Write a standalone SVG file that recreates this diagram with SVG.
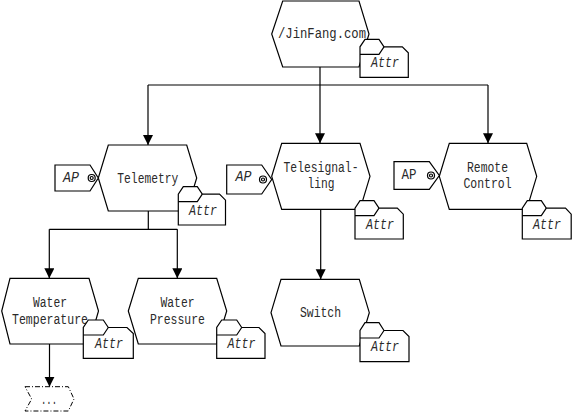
<svg xmlns="http://www.w3.org/2000/svg" width="572" height="412" viewBox="0 0 572 412">
<defs>
<marker id="ah" markerUnits="userSpaceOnUse" markerWidth="10" markerHeight="11" refX="10" refY="5" orient="auto">
<path d="M0,0 L10,5 L0,10 Z" fill="#000"/>
</marker>
</defs>
<style>
.s{fill:#fff;stroke:#000;stroke-width:1.2;stroke-linejoin:miter}
.n{fill:none;stroke:#000;stroke-width:1.2}
.c{fill:none;stroke:#000;stroke-width:1.2}
.t{font-family:"Liberation Mono","Courier New",monospace;font-size:14.5px;fill:#2a2a2a;text-anchor:middle;dominant-baseline:central}
.i{font-style:italic}
.d{fill:#fff;stroke:#000;stroke-width:1;stroke-dasharray:5,2,1,2}
</style>
<rect width="572" height="412" fill="#fff"/>
<g id="connectors">
<path class="c" d="M320,67 V85 M148,85 H488"/>
<path class="c" d="M148,85 V145" marker-end="url(#ah)"/>
<path class="c" d="M320,85 V143.3" marker-end="url(#ah)"/>
<path class="c" d="M488,85 V143.3" marker-end="url(#ah)"/>
<path class="c" d="M148.3,211 V229.3 M49.3,229.3 H177.3"/>
<path class="c" d="M49.3,229.3 V278.3" marker-end="url(#ah)"/>
<path class="c" d="M177.3,229.3 V278.3" marker-end="url(#ah)"/>
<path class="c" d="M320.7,209.3 V279.3" marker-end="url(#ah)"/>
<path class="c" d="M49.5,344 V386.7" marker-end="url(#ah)"/>
</g>
<g id="jinfang">
<polygon class="s" points="282.7,1 359,1 369,34 359,67 282.7,67 271.7,34"/>
<text class="t" x="322" y="34" textLength="88" lengthAdjust="spacingAndGlyphs">/JinFang.com</text>
<path class="s" d="M360,77.3 V46.8 L365,39.3 H379 L384,46.8 H402.3 L408.3,52.8 V77.3 Z"/>
<path class="n" d="M360,54.3 H379 L384,46.8"/>
<text class="t i" x="385" y="63" textLength="28" lengthAdjust="spacingAndGlyphs">Attr</text>
</g>
<g id="telemetry">
<polygon class="s" points="108.3,145 186.7,145 196.7,178 186.7,211 108.3,211 98.3,178"/>
<text class="t" x="147.8" y="179" textLength="61" lengthAdjust="spacingAndGlyphs">Telemetry</text>
<polygon class="s" points="55,165 90,165 98.3,178 90,191 55,191"/>
<circle class="s" cx="91.7" cy="178" r="3.5"/>
<circle class="s" cx="91.7" cy="178" r="1.5"/>
<text class="t i" x="71" y="178" textLength="16" lengthAdjust="spacingAndGlyphs">AP</text>
<path class="s" d="M178.3,225 V194.2 L183.3,186.7 H197.3 L202.3,194.2 H219.5 L225.5,200.2 V225 Z"/>
<path class="n" d="M178.3,201.7 H197.3 L202.3,194.2"/>
<text class="t i" x="203" y="211" textLength="28" lengthAdjust="spacingAndGlyphs">Attr</text>
</g>
<g id="telesignalling">
<polygon class="s" points="281.7,143.3 360,143.3 370,176.3 360,209.3 281.7,209.3 271.7,176.3"/>
<text class="t" x="321" y="168.3" textLength="75" lengthAdjust="spacingAndGlyphs">Telesignal-</text>
<text class="t" x="321" y="184" textLength="27" lengthAdjust="spacingAndGlyphs">ling</text>
<polygon class="s" points="226.7,165 261.7,165 271.7,179.5 261.7,194 226.7,194"/>
<circle class="s" cx="263" cy="179.5" r="3.5"/>
<circle class="s" cx="263" cy="179.5" r="1.5"/>
<text class="t i" x="243.5" y="177" textLength="16" lengthAdjust="spacingAndGlyphs">AP</text>
<path class="s" d="M355,239 V208.2 L360,200.7 H374 L379,208.2 H397.3 L403.3,214.2 V239 Z"/>
<path class="n" d="M355,215.7 H374 L379,208.2"/>
<text class="t i" x="380" y="224.5" textLength="28" lengthAdjust="spacingAndGlyphs">Attr</text>
</g>
<g id="remote">
<polygon class="s" points="449.3,143.3 526.7,143.3 536.7,176.3 526.7,209.3 449.3,209.3 439.3,176.3"/>
<text class="t" x="487.5" y="168.3" textLength="41" lengthAdjust="spacingAndGlyphs">Remote</text>
<text class="t" x="487.5" y="184" textLength="48" lengthAdjust="spacingAndGlyphs">Control</text>
<polygon class="s" points="394,161.7 429.3,161.7 439.3,175.5 429.3,189.3 394,189.3"/>
<circle class="s" cx="431" cy="175.5" r="3.5"/>
<circle class="s" cx="431" cy="175.5" r="1.5"/>
<text class="t" x="409" y="175" textLength="15" lengthAdjust="spacingAndGlyphs">AP</text>
<path class="s" d="M522.3,239 V208.2 L527.3,200.7 H541.3 L546.3,208.2 H565.5 L571.2,214.2 V239 Z"/>
<path class="n" d="M522.3,215.7 H541.3 L546.3,208.2"/>
<text class="t i" x="547" y="224.5" textLength="28" lengthAdjust="spacingAndGlyphs">Attr</text>
</g>
<g id="watertemp">
<polygon class="s" points="10,278.3 89,278.3 98.5,311 89,344 10,344 1.7,311"/>
<text class="t" x="50" y="303.3" textLength="34" lengthAdjust="spacingAndGlyphs">Water</text>
<text class="t" x="50" y="320" textLength="76" lengthAdjust="spacingAndGlyphs">Temperature</text>
<path class="s" d="M83.3,358.3 V327.5 L88.3,320 H103.3 L108.3,327.5 H127 L133.3,333.5 V358.3 Z"/>
<path class="n" d="M83.3,335 H103.3 L108.3,327.5"/>
<text class="t i" x="109" y="343.5" textLength="28" lengthAdjust="spacingAndGlyphs">Attr</text>
</g>
<g id="waterpressure">
<polygon class="s" points="138.3,278.3 216.7,278.3 226.7,311 216.7,344 138.3,344 128.3,311"/>
<text class="t" x="177.5" y="303.3" textLength="34" lengthAdjust="spacingAndGlyphs">Water</text>
<text class="t" x="177.5" y="320" textLength="55" lengthAdjust="spacingAndGlyphs">Pressure</text>
<path class="s" d="M216.7,358.3 V327.5 L221.7,320 H236.7 L241.7,327.5 H259 L265,333.5 V358.3 Z"/>
<path class="n" d="M216.7,335 H236.7 L241.7,327.5"/>
<text class="t i" x="241.5" y="343.5" textLength="28" lengthAdjust="spacingAndGlyphs">Attr</text>
</g>
<g id="switch">
<polygon class="s" points="281,279.3 359.3,279.3 369.3,312.7 359.3,346 281,346 271,312.7"/>
<text class="t" x="320.5" y="312.7" textLength="41" lengthAdjust="spacingAndGlyphs">Switch</text>
<path class="s" d="M360,361.7 V330.5 L365,322.7 H379 L384,330.5 H403 L409,336.5 V361.7 Z"/>
<path class="n" d="M360,338 H379 L384,330.5"/>
<text class="t i" x="385" y="347" textLength="28" lengthAdjust="spacingAndGlyphs">Attr</text>
</g>
<g id="more">
<polygon class="d" points="25,386.7 68.3,386.7 74,399 68.3,411 25,411 31.7,399"/>
<text class="t" x="49" y="400" textLength="16" lengthAdjust="spacingAndGlyphs">...</text>
</g>
</svg>
